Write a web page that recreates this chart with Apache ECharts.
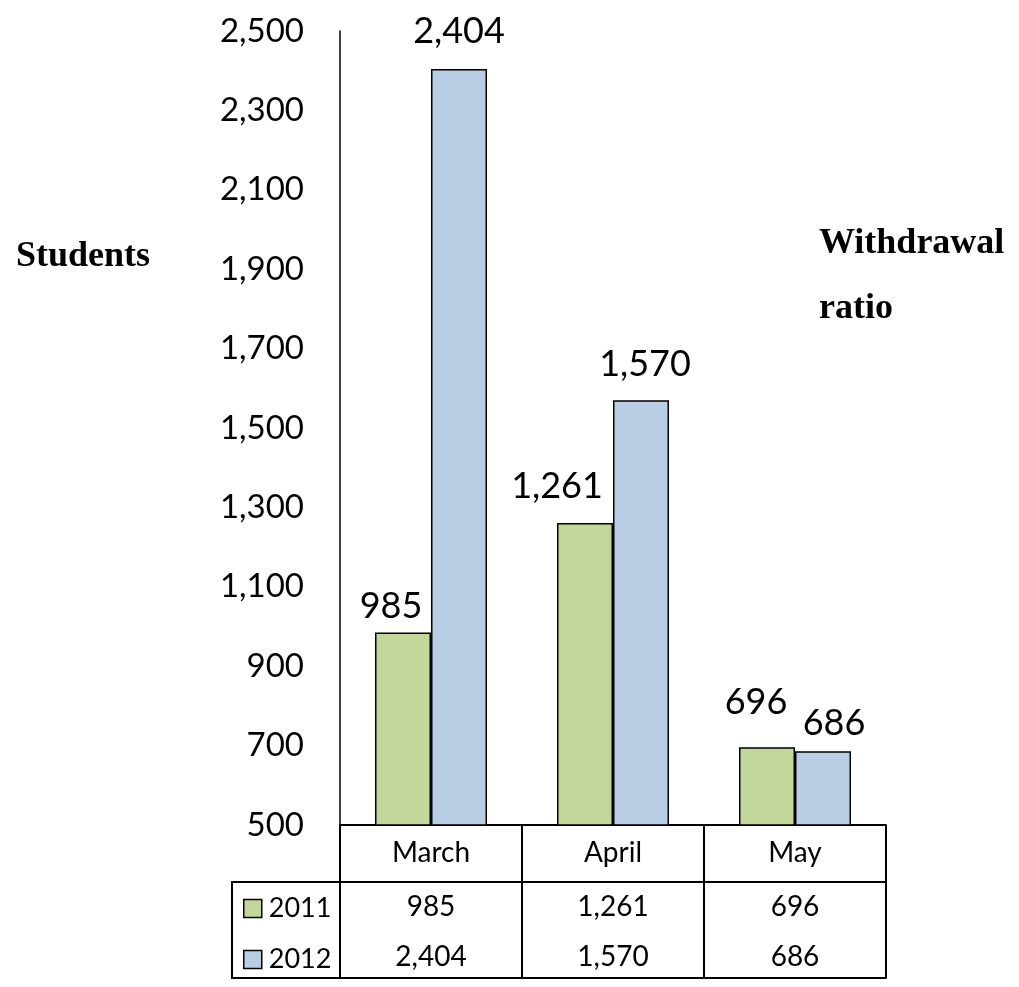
<!DOCTYPE html>
<html>

<head>
    <meta charset="UTF-8">
    <script src="https://cdn.jsdelivr.net/npm/echarts@6/dist/echarts.min.js"></script>
    <style>
        body { margin: 0; background: #fff; }
    </style>
</head>

<body>
    <div id="chart" style="width: 1019px;height:987px"></div>
    <script>
    // 数据
    var months = ['March', 'April', 'May'];
    var years = ['2011', '2012'];
    var students2011 = [985, 1261, 696];
    var students2012 = [2404, 1570, 686];
    var yMin = 500, yMax = 2500, yStep = 200;

    function fmt(v) {
        return String(v).replace(/\B(?=(\d{3})+(?!\d))/g, ',');
    }

    // 标签微调（参照原图手动挪动过的位置）
    var shift2011 = [[-12, 10], [-28, 0], [-11, -9]];
    var shift2012 = [[0, -2], [4, 0], [11, 8]];

    function withLabels(values, shifts) {
        return values.map(function(v, i) {
            return { value: v, label: { offset: shifts[i] } };
        });
    }

    var font = 'Lato';
    var black = '#000';

    var option = {
        animation: false,
        title: [{
            text: 'Students',
            left: 16, top: 239, padding: 0,
            textStyle: { fontFamily: 'Liberation Serif', fontWeight: 'bold', fontSize: 36, color: black }
        }, {
            text: 'Withdrawal\nratio',
            left: 819, top: 211, padding: 0,
            textStyle: { fontFamily: 'Liberation Serif', fontWeight: 'bold', fontSize: 36, lineHeight: 65, color: black }
        }],
        legend: {
            orient: 'vertical',
            left: 243, top: 895,
            padding: 0,
            itemWidth: 18, itemHeight: 18,
            itemGap: 24,
            icon: 'rect',
            itemStyle: { borderColor: black, borderWidth: 1.5 },
            textStyle: { fontFamily: font, fontSize: 27, color: black, padding: [0, 0, 0, 2] },
            data: years
        },
        grid: { left: 340, right: 133, top: 31, bottom: 162 },
        xAxis: [{
            type: 'category',
            data: months,
            axisLine: { lineStyle: { color: black, width: 2 } },
            axisTick: { show: true, alignWithLabel: false, length: 153, lineStyle: { color: black, width: 2 } },
            axisLabel: { fontFamily: font, fontSize: 28, color: black, margin: 14 }
        }, {
            type: 'category',
            data: students2011.map(fmt),
            position: 'bottom',
            offset: 57,
            axisLine: { lineStyle: { color: black, width: 2 } },
            axisTick: { show: false },
            axisLabel: { fontFamily: font, fontSize: 28, color: black, margin: 11 }
        }, {
            type: 'category',
            data: students2012.map(fmt),
            position: 'bottom',
            offset: 153,
            axisLine: { lineStyle: { color: black, width: 2 } },
            axisTick: { show: false },
            axisLabel: { inside: true, fontFamily: font, fontSize: 28, color: black, margin: 7 }
        }],
        yAxis: {
            type: 'value',
            min: yMin, max: yMax, interval: yStep,
            axisLine: { show: true, lineStyle: { color: black, width: 1.5 } },
            axisTick: { show: false },
            splitLine: { show: false },
            axisLabel: {
                fontFamily: font, fontSize: 33, color: black, margin: 36,
                formatter: fmt
            }
        },
        series: [{
            name: years[0],
            type: 'bar',
            barWidth: 56,
            barGap: '0%',
            itemStyle: { color: '#C4D79B', borderColor: black, borderWidth: 1.5 },
            label: {
                show: true, position: 'top', distance: 18,
                fontFamily: font, fontSize: 36, color: black,
                formatter: function(p) { return fmt(p.value); }
            },
            data: withLabels(students2011, shift2011)
        }, {
            name: years[1],
            type: 'bar',
            barWidth: 56,
            barGap: '0%',
            itemStyle: { color: '#B9CDE5', borderColor: black, borderWidth: 1.5 },
            label: {
                show: true, position: 'top', distance: 18,
                fontFamily: font, fontSize: 36, color: black,
                formatter: function(p) { return fmt(p.value); }
            },
            data: withLabels(students2012, shift2012)
        }],
        // 数据表左侧那一栏的边框
        graphic: [{
            type: 'polyline',
            shape: { points: [[340, 882], [232, 882], [232, 978], [340, 978]] },
            style: { stroke: black, lineWidth: 2, fill: null }
        }]
    };

    var myChart = echarts.init(document.getElementById('chart'));
    myChart.setOption(option);
    </script>
</body>

</html>
